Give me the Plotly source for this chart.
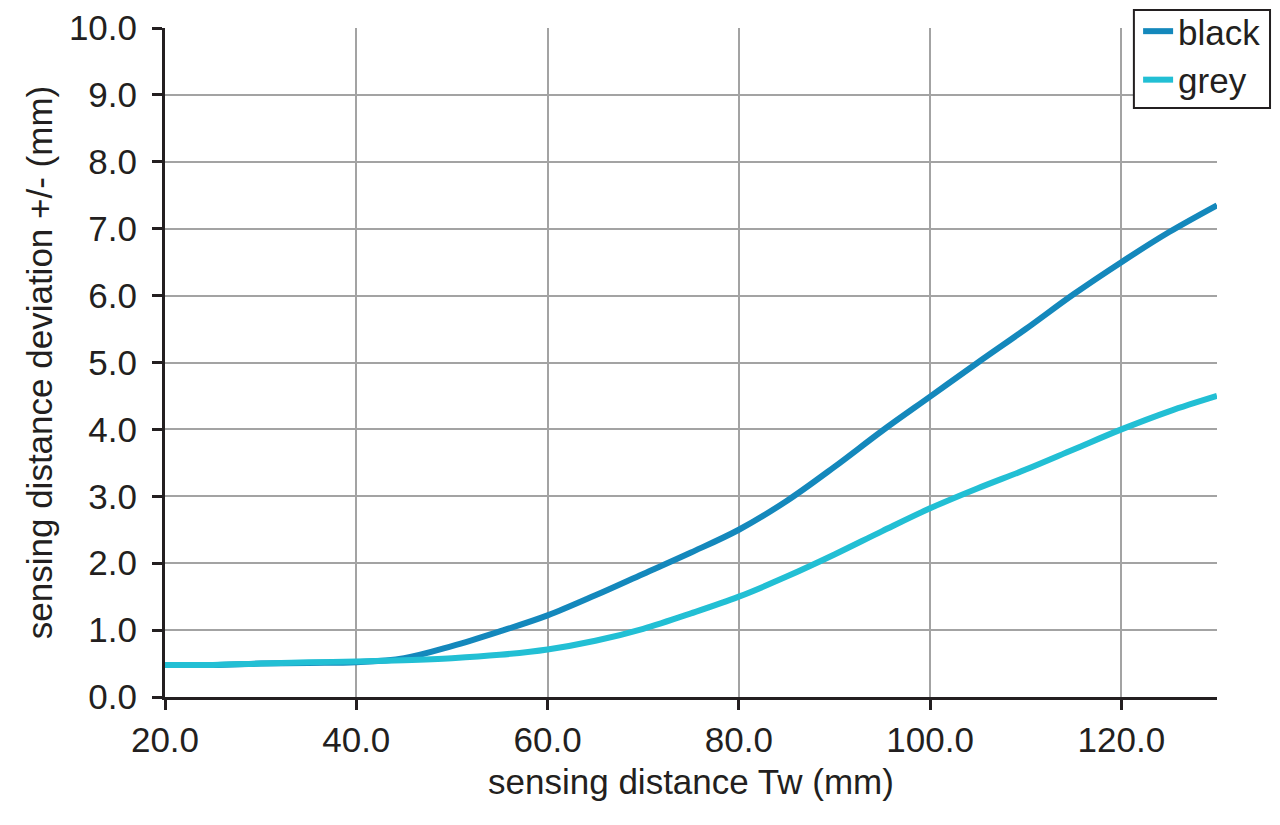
import plotly.graph_objects as go

distance = [20, 25, 30, 35, 40, 45, 50, 55, 60, 65, 70, 75, 80, 85, 90, 95, 100, 105, 110, 115, 120, 125, 130]
black = [0.48, 0.48, 0.50, 0.51, 0.52, 0.58, 0.76, 0.98, 1.22, 1.52, 1.84, 2.16, 2.50, 2.93, 3.44, 3.98, 4.49, 5.00, 5.50, 6.02, 6.50, 6.95, 7.35]
grey = [0.48, 0.48, 0.50, 0.52, 0.53, 0.55, 0.58, 0.63, 0.71, 0.84, 1.02, 1.25, 1.50, 1.80, 2.13, 2.48, 2.82, 3.12, 3.40, 3.70, 4.00, 4.27, 4.50]
x_ticks = [20, 40, 60, 80, 100, 120]
y_ticks = [0, 1, 2, 3, 4, 5, 6, 7, 8, 9, 10]

font = dict(family="Liberation Sans, Arial, sans-serif", size=35, color="#231f20")

fig = go.Figure()
fig.add_trace(go.Scatter(x=distance, y=black, name="black", mode="lines",
                         line=dict(color="#1488bc", width=6, shape="spline", smoothing=1.0)))
fig.add_trace(go.Scatter(x=distance, y=grey, name="grey", mode="lines",
                         line=dict(color="#22bfd4", width=6, shape="spline", smoothing=1.0)))

# legend frame drawn separately so the entries sit tighter inside it
fig.add_shape(type="rect", xref="paper", yref="paper",
              x0=0.921, x1=1.0504, y0=0.8804, y1=1.0269,
              line=dict(color="#231f20", width=2), fillcolor="white", layer="above")

fig.update_layout(
    width=1280, height=825,
    margin=dict(l=157, r=71, t=20, b=136, autoexpand=False),
    paper_bgcolor="white", plot_bgcolor="white",
    font=font,
    legend=dict(x=0.925, y=1.039, xanchor="left", yanchor="top",
                borderwidth=0, bgcolor="rgba(0,0,0,0)",
                font=dict(size=35), tracegroupgap=0),
)
fig.update_xaxes(
    range=[20, 130], tickvals=x_ticks, ticktext=[f"{v:.1f}" for v in x_ticks],
    showgrid=True, gridcolor="#a3a3a3", gridwidth=2,
    showline=True, linecolor="#231f20", linewidth=3,
    ticks="outside", ticklen=10, tickwidth=3, tickcolor="#231f20",
    title=dict(text="sensing distance Tw (mm)", font=dict(size=35), standoff=12), zeroline=False,
)
fig.update_yaxes(
    range=[0, 10], tickvals=y_ticks, ticktext=[f"{v:.1f}" for v in y_ticks],
    showgrid=True, gridcolor="#a3a3a3", gridwidth=2,
    showline=True, linecolor="#231f20", linewidth=3,
    ticks="outside", ticklen=10, tickwidth=3, tickcolor="#231f20", ticklabelstandoff=8,
    title=dict(text="sensing distance deviation +/- (mm)", font=dict(size=35), standoff=6), zeroline=False,
)

fig.write_html("out.html")
